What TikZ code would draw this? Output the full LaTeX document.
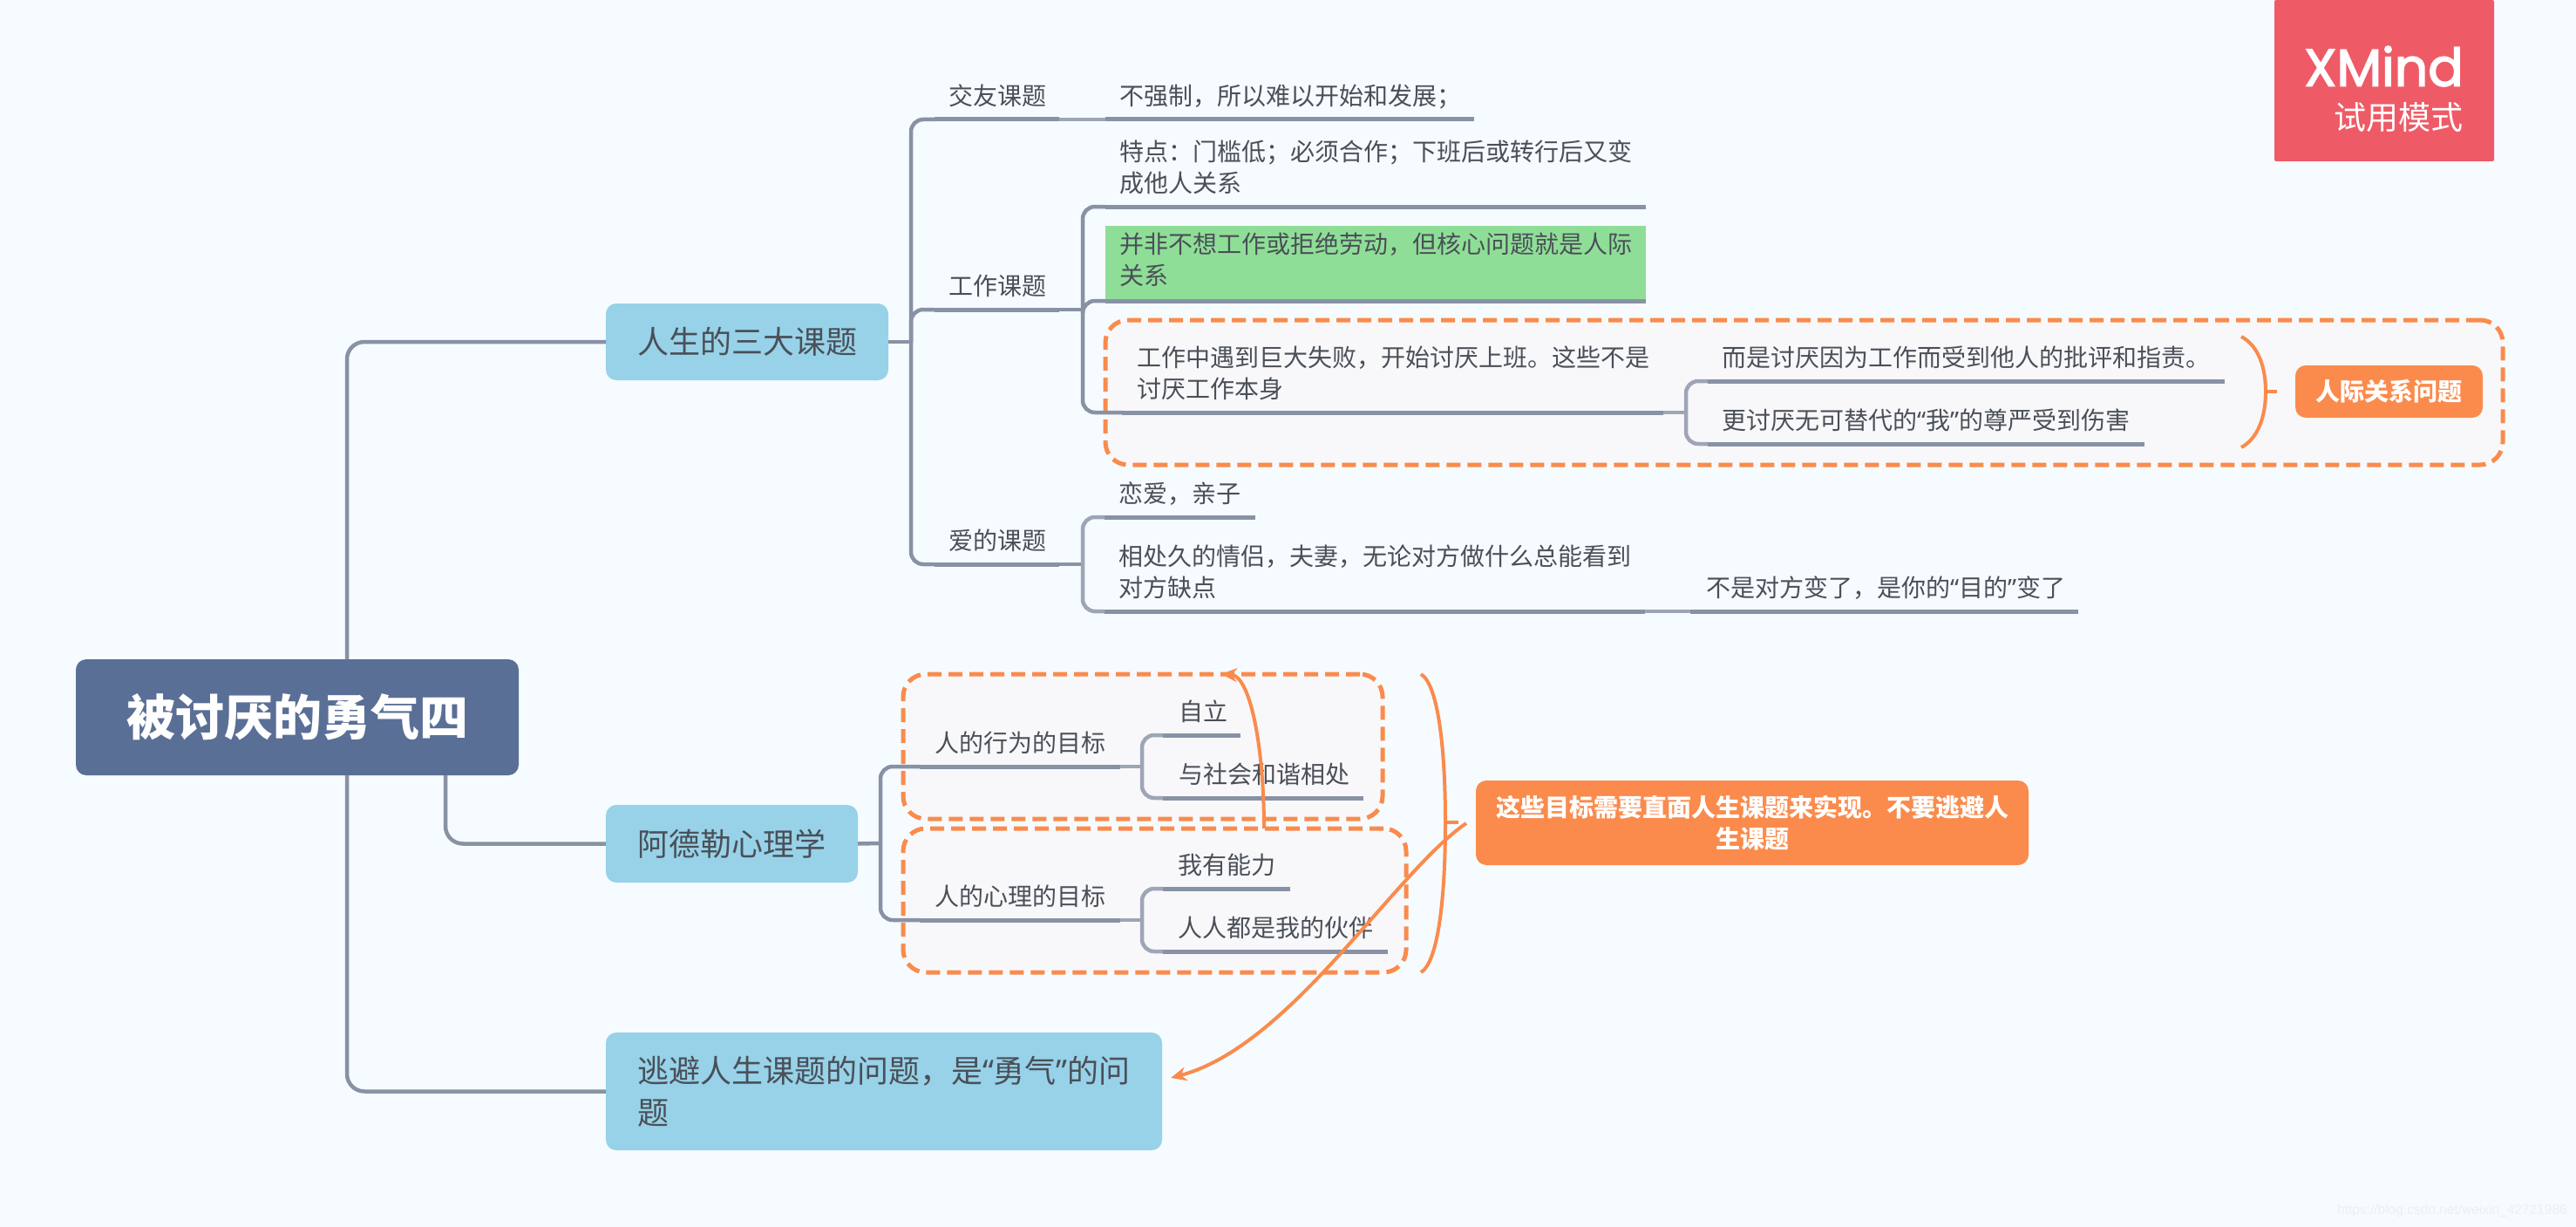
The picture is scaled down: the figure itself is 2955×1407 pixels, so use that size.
\documentclass[tikz,border=0pt]{standalone}
\usepackage{fontspec}
\usetikzlibrary{arrows.meta,calc}
\setmainfont{Noto Sans CJK SC}
\newfontfamily\logofont[FakeBold=2.5]{Poppins}
\newfontfamily\markfont{Liberation Sans}
\newfontfamily\quotefont{Noto Sans}
\newcommand\qopen{{\quotefont “}}
\newcommand\qclose{{\quotefont ”}}
\definecolor{pagebg}{HTML}{F6FBFF}
\definecolor{rootblue}{HTML}{5A6F96}
\definecolor{skyblue}{HTML}{97D2E8}
\definecolor{linegrey}{HTML}{8892A5}
\definecolor{softgrey}{HTML}{9EA5B6}
\definecolor{inkgrey}{HTML}{4A4F58}
\definecolor{accent}{HTML}{FA8B4C}
\definecolor{boxfill}{HTML}{F8F8FA}
\definecolor{leafgreen}{HTML}{8FDE97}
\definecolor{logored}{HTML}{EE5B66}
\definecolor{markgrey}{HTML}{ECF0F4}
\tikzset{
  rootnode/.style={fill=rootblue,text=white,rounded corners=12pt,font=\fontsize{56}{64}\selectfont\bfseries,minimum width=508pt,minimum height=133pt,inner sep=0pt,outer sep=0pt},
  mainnode/.style={fill=skyblue,text=inkgrey,rounded corners=12pt,font=\fontsize{36}{48}\selectfont,inner sep=0pt,outer sep=0pt,align=left},
  topicnode/.style={anchor=south west,align=left,inner ysep=5.6pt,outer sep=0pt,text=inkgrey,font=\fontsize{28}{36}\selectfont},
  uline/.style={draw=linegrey,line width=5pt},
  conn/.style={draw=linegrey,line width=4.5pt,rounded corners=14pt},
  softconn/.style={draw=softgrey,line width=4.5pt,rounded corners=14pt},
  noteline/.style={draw=accent,line width=4pt},
  boundarybox/.style={draw=accent,fill=boxfill,line width=5pt,dash pattern=on 16pt off 8pt,rounded corners=26pt,anchor=north west,inner sep=0pt,outer sep=0pt},
  notenode/.style={fill=accent,text=white,rounded corners=12pt,font=\fontsize{28}{36}\selectfont\bfseries,inner sep=0pt,outer sep=0pt,align=center},
  arrowline/.style={draw=accent,line width=4pt,-{Stealth[length=18pt,width=16pt]}},
}
% name, x, y of underline, width, inset, extra style, text
\newcommand\topic[7]{%
  \pgfmathsetmacro\tw{#4-2*#5}%
  \node[topicnode,inner xsep=#5pt,text width=\tw pt,#6] (#1) at (#2,#3) {#7\strut};
  \draw[uline] (#1.south west) -- (#1.south east);
}
\begin{document}
\begin{tikzpicture}[x=1pt,y=-1pt]
\useasboundingbox (0,0) rectangle (2955,1407);
\fill[pagebg] (0,0) rectangle (2955,1407);

% logo and watermark
\node[fill=logored,rounded corners=2pt,minimum width=252pt,minimum height=185pt,inner sep=0pt,outer sep=0pt,anchor=north west] (logo) at (2609,0) {};
\node[anchor=east,text=white,inner sep=0pt,font=\logofont\fontsize{60}{62}\selectfont] (logoa) at (2826,76) {XMind};
\node[anchor=east,text=white,inner sep=0pt,font=\fontsize{37}{40}\selectfont] (logob) at (2826,135) {试用模式};
\node[anchor=east,text=markgrey,inner sep=0pt,font=\markfont\fontsize{15.5}{18}\selectfont] (mark) at (2945,1388) {https://blog.csdn.net/weixin\_42721986};

% boundaries
\node[boundarybox,minimum width=1603pt,minimum height=166pt] (b1) at (1268,367) {};
\node[boundarybox,minimum width=550pt,minimum height=166pt] (b2) at (1036,773) {};
\node[boundarybox,minimum width=577pt,minimum height=165pt] (b3) at (1036,950) {};

% main nodes
\node[rootnode,anchor=north west] (root) at (87,756) {被讨厌的勇气四};
\node[mainnode,anchor=north west,minimum width=324pt,minimum height=88pt] (n1) at (695,348) {人生的三大课题};
\node[mainnode,anchor=north west,minimum width=289pt,minimum height=89pt] (n2) at (695,923) {阿德勒心理学};
\node[mainnode,anchor=north west,minimum width=638pt,minimum height=135pt,text width=566pt] (n3) at (695,1184) {逃避人生课题的问题，是\qopen 勇气\qclose 的问\\题};

% root connectors
\draw[conn,rounded corners=20pt] ([xshift=311pt]root.north west) |- (n1.west);
\draw[conn,rounded corners=20pt] ([xshift=311pt]root.south west) |- (n3.west);
\draw[conn,rounded corners=20pt] ([xshift=424pt]root.south west) |- (n2.west);

% topics
\topic{t1}{1072}{137}{143}{16}{}{交友课题}
\topic{d1}{1268}{137}{423}{16}{}{不强制，所以难以开始和发展；}
\topic{t2}{1072}{355}{143}{16}{}{工作课题}
\topic{d2a}{1268}{237}{620}{16}{}{特点：门槛低；必须合作；下班后或转行后又变\\成他人关系}
\topic{d2b}{1268}{345}{620}{16}{fill=leafgreen,minimum height=86pt}{并非不想工作或拒绝劳动，但核心问题就是人际\\关系}
\topic{d2c}{1287}{473}{621}{17}{}{工作中遇到巨大失败，开始讨厌上班。这些不是\\讨厌工作本身}
\topic{e1}{1959}{437}{593}{16}{}{而是讨厌因为工作而受到他人的批评和指责。}
\topic{e2}{1959}{509}{501}{16}{}{更讨厌无可替代的\qopen 我\qclose 的尊严受到伤害}
\topic{t3}{1072}{647}{143}{16}{}{爱的课题}
\topic{d3a}{1267}{593}{173}{16}{}{恋爱，亲子}
\topic{d3b}{1267}{701}{620}{16}{}{相处久的情侣，夫妻，无论对方做什么总能看到\\对方缺点}
\topic{f1}{1939}{701}{445}{18}{}{不是对方变了，是你的\qopen 目的\qclose 变了}
\topic{g1}{1055}{879}{230}{17}{}{人的行为的目标}
\topic{h1}{1334}{843}{89}{18}{}{自立}
\topic{h2}{1334}{915}{230}{18}{}{与社会和谐相处}
\topic{g2}{1055}{1055}{230}{17}{}{人的心理的目标}
\topic{h3}{1334}{1019}{146}{17}{}{我有能力}
\topic{h4}{1334}{1091}{258}{17}{}{人人都是我的伙伴}

% branch junctions
\coordinate (s1) at (1045,392);
\coordinate (s2) at (1242,355);
\coordinate (s3) at (1242,647);
\coordinate (s4) at (1934,473);
\coordinate (s5) at (1010,967);
\coordinate (s6) at (1310,879);
\coordinate (s7) at (1310,1055);

\draw[conn] (n1.east) -- (s1);
\draw[conn] (s1) |- (t1.south west);
\draw[conn] (s1) |- (t2.south west);
\draw[conn] (s1) |- (t3.south west);
\draw[softconn] (t1.south east) -- (d1.south west);
\draw[conn] (t2.south east) -- (s2);
\draw[conn] (s2) |- (d2a.south west);
\draw[conn] (s2) |- (d2b.south west);
\draw[conn] (s2) |- (d2c.south west);
\draw[softconn] (d2c.south east) -- (s4);
\draw[softconn] (s4) |- (e1.south west);
\draw[softconn] (s4) |- (e2.south west);
\draw[conn] (t3.south east) -- (s3);
\draw[softconn] (s3) |- (d3a.south west);
\draw[softconn] (s3) |- (d3b.south west);
\draw[softconn] (d3b.south east) -- (f1.south west);
\draw[conn] (n2.east) -- (s5);
\draw[conn] (s5) |- (g1.south west);
\draw[conn] (s5) |- (g2.south west);
\draw[softconn] (g1.south east) -- (s6);
\draw[softconn] (s6) |- (h1.south west);
\draw[softconn] (s6) |- (h2.south west);
\draw[softconn] (g2.south east) -- (s7);
\draw[softconn] (s7) |- (h3.south west);
\draw[softconn] (s7) |- (h4.south west);

% notes
\node[notenode,anchor=north west,minimum width=215pt,minimum height=60pt] (p1) at (2633,419) {人际关系问题};
\node[notenode,anchor=north west,minimum width=634pt,minimum height=97pt] (p2) at (1693,895) {这些目标需要直面人生课题来实现。不要逃避人\\生课题};

% summary braces
\coordinate (q1) at (2571,386);
\coordinate (q2) at (2599,449);
\coordinate (q3) at (2571,513);
\coordinate (q4) at (2612,449);
\draw[noteline] (q1) .. controls (2590,396) and (2599,420) .. (q2) .. controls (2599,478) and (2590,503) .. (q3);
\draw[noteline] (q2) -- (q4);
\coordinate (r1) at (1630,773);
\coordinate (r2) at (1658,943);
\coordinate (r3) at (1630,1115);
\coordinate (r4) at (1673,943);
\draw[noteline] (r1) .. controls (1650,785) and (1658,860) .. (r2) .. controls (1658,1028) and (1650,1103) .. (r3);
\draw[noteline] (r2) -- (r4);

% relationship arrows
\coordinate (a1) at (1450,950);
\coordinate (a2) at (1401,773);
\coordinate (a3) at (1682,944);
\coordinate (a4) at (1343,1236);
\draw[arrowline] (a1) .. controls (1450,860) and (1435,775) .. (a2);
\draw[arrowline] (a3) .. controls (1600,1000) and (1480,1200) .. (a4);
\end{tikzpicture}
\end{document}
